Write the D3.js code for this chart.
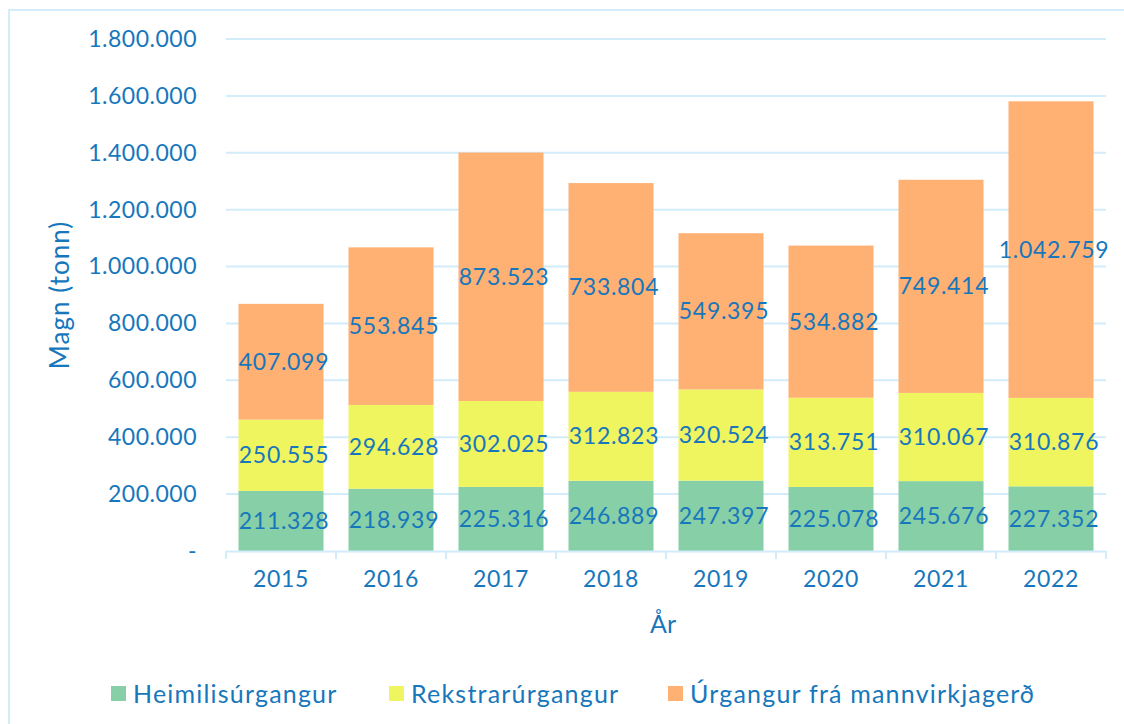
<!DOCTYPE html>
<html><head><meta charset="utf-8">
<script src="https://cdn.jsdelivr.net/npm/d3@7"></script>
<style>
html,body{margin:0;padding:0;background:#fff;}
svg{display:block;font-family:Lato,"Open Sans",sans-serif;}
</style></head>
<body>
<svg id="chart" width="1124" height="724"></svg>
<script>
const years = ["2015","2016","2017","2018","2019","2020","2021","2022"];
const seriesNames = ["Heimilisúrgangur","Rekstrarúrgangur","Úrgangur frá mannvirkjagerð"];
const heimilis = [211328,218939,225316,246889,247397,225078,245676,227352];
const rekstrar = [250555,294628,302025,312823,320524,313751,310067,310876];
const mannvirkja = [407099,553845,873523,733804,549395,534882,749414,1042759];
const yTicks = [0,200000,400000,600000,800000,1000000,1200000,1400000,1600000,1800000];
const colors = ["#87CFA6","#EFF55F","#FFB073"];
const textColor = "#1777BC";
const gridColor = "#D3ECFA";

const svg = d3.select("#chart");
const x = d3.scaleBand().domain(years).range([226,1106]).paddingInner(0.227).paddingOuter(0.1135);
const y = d3.scaleLinear().domain([0,1800000]).range([551,39]);

// outer frame
svg.append("rect").attr("x",9).attr("y",10).attr("width",1130).attr("height",730)
  .attr("fill","none").attr("stroke",gridColor).attr("stroke-width",2);

const fmt = v => v===0 ? "-" : d3.format(",")(v).replace(/,/g,".");

// gridlines
svg.append("g").selectAll("line").data(yTicks.filter(d=>d>0)).join("line")
  .attr("x1",226).attr("x2",1106).attr("y1",d=>y(d)).attr("y2",d=>y(d))
  .attr("stroke",gridColor).attr("stroke-width",2);

// y axis labels
const yAxis = d3.axisLeft(y).tickValues(yTicks).tickFormat(fmt).tickSize(0).tickPadding(29);
const gy = svg.append("g").attr("transform","translate(226,0)").call(yAxis);
gy.select(".domain").remove();
gy.selectAll("text").attr("fill",textColor).style("font-size","23px")
  .style("font-family","Lato,sans-serif").style("letter-spacing","0.5px");

// stacked data
const rows = years.map((yr,i)=>({year:yr, a:heimilis[i], b:rekstrar[i], c:mannvirkja[i]}));
const stack = d3.stack().keys(["a","b","c"])(rows);

const layers = svg.append("g").selectAll("g").data(stack).join("g").attr("fill",(d,i)=>colors[i]);
layers.selectAll("rect").data(d=>d).join("rect")
  .attr("x",d=>x(d.data.year)).attr("width",x.bandwidth())
  .attr("y",d=>y(d[1])).attr("height",d=>y(d[0])-y(d[1]));

// value labels
const lbl = svg.append("g");
stack.forEach(layer=>{
  lbl.selectAll(null).data(layer).join("text")
    .attr("x",d=>x(d.data.year)+x.bandwidth()/2+3)
    .attr("y",d=>y((d[0]+d[1])/2))
    .attr("dy","0.35em").attr("text-anchor","middle")
    .attr("fill",textColor).style("font-size","23px").style("letter-spacing","0.7px")
    .text(d=>fmt(d[1]-d[0]));
});

// x axis
const xAxis = d3.axisBottom(x).tickSize(0).tickPadding(20);
const gx = svg.append("g").attr("transform","translate(0,551)").call(xAxis);
gx.select(".domain").attr("stroke",gridColor).attr("stroke-width",2);
gx.selectAll("text").attr("fill",textColor).style("font-size","23px")
  .style("font-family","Lato,sans-serif").style("letter-spacing","0.7px");
// band boundary ticks
const bounds = years.map(d=>x(d)-x.step()*x.paddingInner()/2).concat([1106]);
bounds[0]=226;
svg.append("g").selectAll("line").data(bounds).join("line")
  .attr("x1",d=>d).attr("x2",d=>d).attr("y1",551).attr("y2",559)
  .attr("stroke",gridColor).attr("stroke-width",2);

// axis titles
svg.append("text").attr("transform","translate(69,295) rotate(-90)")
  .attr("text-anchor","middle").attr("fill",textColor).style("font-size","26px")
  .style("letter-spacing","1px").text("Magn (tonn)");
svg.append("text").attr("x",663).attr("y",633)
  .attr("text-anchor","middle").attr("fill",textColor).style("font-size","25px").text("År");

// legend
const legendX = [111,389,668];
const lg = svg.append("g").selectAll("g").data(seriesNames).join("g")
  .attr("transform",(d,i)=>`translate(${legendX[i]},686)`);
lg.append("rect").attr("width",15).attr("height",15).attr("fill",(d,i)=>colors[i]);
lg.append("text").attr("x",22).attr("y",8).attr("dy","0.35em")
  .attr("fill",textColor).style("font-size","25px").style("letter-spacing","1.2px").text(d=>d);
</script>
</body></html>
